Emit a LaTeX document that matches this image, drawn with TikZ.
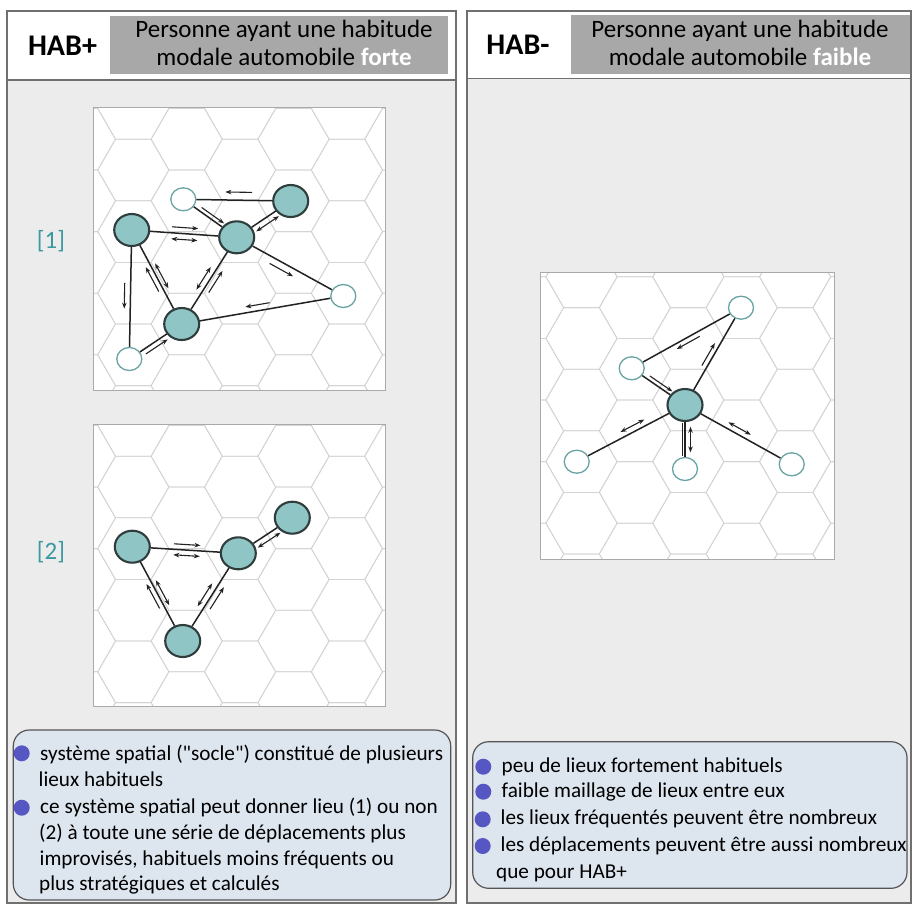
\documentclass[tikz,border=0pt]{standalone}
\usepackage{fontspec}
\setmainfont{Carlito}
\usetikzlibrary{calc,arrows.meta,shapes.geometric}
\definecolor{panelbg}{HTML}{ECECEC}
\definecolor{panelline}{HTML}{707070}
\definecolor{hexcol}{HTML}{D4D4D4}
\definecolor{headgray}{HTML}{A8A8A8}
\definecolor{nodefill}{HTML}{8FC5C4}
\definecolor{nodeline}{HTML}{2F3D3D}
\definecolor{opencol}{HTML}{6AA3A3}
\definecolor{boxfill}{HTML}{DDE5EF}
\definecolor{boxline}{HTML}{555555}
\definecolor{bulletcol}{HTML}{5757C4}
\definecolor{tealtext}{HTML}{3A9AA0}
\definecolor{edgecol}{HTML}{222222}
\newcommand{\hexgrid}[6]{%
  \begin{scope}
    \clip (#3,#4) rectangle (#5,#6);
    \foreach \i in {-5,...,6}{
      \foreach \k in {-5,...,6}{
        \pgfmathsetmacro{\cx}{#1+\i*53.4}
        \pgfmathsetmacro{\cy}{#2+\k*61.6-mod(abs(\i),2)*30.8}
        \draw[hexline] (\cx+35.6,\cy) -- (\cx+17.8,\cy+30.8) -- (\cx-17.8,\cy+30.8)
          -- (\cx-35.6,\cy) -- (\cx-17.8,\cy-30.8) -- (\cx+17.8,\cy-30.8) -- cycle;
      }}
  \end{scope}}
\newcommand{\sarr}[6][sm]{\draw[#1] ($(#2)!#4!(#3)!#6!90:(#3)$) -- ($(#2)!#5!(#3)!#6!90:(#3)$);}
\begin{document}
\begin{tikzpicture}[x=1pt,y=-1pt,
  hexline/.style={draw=hexcol,line width=0.8pt},
  panel/.style={draw=panelline,line width=1.3pt},
  gridbox/.style={fill=white,draw=hexcol!80!black,line width=0.8pt},
  fnode/.style={ellipse,draw=nodeline,fill=nodefill,line width=2.1pt,minimum width=35pt,minimum height=32pt,inner sep=0pt},
  onode/.style={ellipse,draw=opencol,fill=white,line width=1.3pt,minimum width=25pt,minimum height=23pt,inner sep=0pt},
  edge/.style={draw=edgecol,line width=1.5pt},
  sm/.style={draw=edgecol,line width=1.1pt,-{Stealth[length=6pt,width=4.5pt]}},
  dbl/.style={draw=edgecol,line width=1.1pt,{Stealth[length=6pt,width=4.5pt]}-{Stealth[length=6pt,width=4.5pt]}},
  plainl/.style={draw=edgecol,line width=1.5pt},
  bullet/.style={circle,fill=bulletcol,minimum size=16pt,inner sep=0pt},
  btext/.style={anchor=base west,inner sep=0pt,font=\fontsize{21.2}{26}\selectfont},
  ttext/.style={anchor=base,inner sep=0pt,font=\fontsize{25}{28}\selectfont},
  htext/.style={anchor=base,inner sep=0pt,font=\fontsize{30}{32}\selectfont\bfseries},
  lab/.style={inner sep=0pt,text=tealtext,font=\fontsize{25}{28}\selectfont}]
\useasboundingbox[fill=white] (0,0) rectangle (913,906);
% ---------- panels ----------
\fill[panelbg] (7,80) rectangle (456,903);
\fill[panelbg] (467,78.5) rectangle (911,903);
\draw[panel] (7,11) rectangle (456,903);
\draw[panel] (7,80) -- (456,80);
\draw[panel] (467,11) rectangle (911,903);
\draw[panel] (467,78.5) -- (911,78.5);
\fill[headgray] (110,16) rectangle (448,74);
\fill[headgray] (571,15) rectangle (910,74);
\node[htext] (h1) at (62.5,55) {HAB+};
\node[htext] (h2) at (518,54) {HAB-};
\node[ttext] (t1a) at (284,37.5) {Personne ayant une habitude};
\node[ttext] (t1b) at (284,65.5) {modale automobile \textcolor{white}{\bfseries forte}};
\node[ttext] (t2a) at (740,37.5) {Personne ayant une habitude};
\node[ttext] (t2b) at (740,65.5) {modale automobile \textcolor{white}{\bfseries faible}};
% ---------- grids ----------
\fill[white] (93,107) rectangle (385,390);
\hexgrid{133.3}{170}{93}{107}{385}{390}
\draw[gridbox,fill=none] (93,107) rectangle (385,390);
\fill[white] (93,424) rectangle (385,706);
\hexgrid{133.3}{487}{93}{424}{385}{706}
\draw[gridbox,fill=none] (93,424) rectangle (385,706);
\fill[white] (540,272) rectangle (834,559);
\hexgrid{688.3}{400}{540}{272}{834}{559}
\draw[gridbox,fill=none] (540,272) rectangle (834,559);
\node[lab] (l1) at (51,241) {[1]};
\node[lab] (l2) at (51,552) {[2]};
% ---------- panel 1 ----------
\node[fnode] (F1) at (131.7,230) {};
\node[fnode] (F2) at (236.7,237.3) {};
\node[fnode] (F3) at (290.7,201) {};
\node[fnode] (F4) at (181.7,324) {};
\node[onode] (O1) at (183.3,199.3) {};
\node[onode] (O2) at (343.3,296) {};
\node[onode] (O3) at (129.3,359) {};
\draw[edge] (F1) -- (F2);
\sarr{F1}{F2}{0.38}{0.63}{6pt}
\sarr[dbl]{F1}{F2}{0.38}{0.63}{-6pt}
\draw[edge] (F2) -- (F3);
\sarr[dbl]{F2}{F3}{0.3}{0.72}{-6pt}
\draw[edge] (O1) -- (F3);
\sarr{O1}{F3}{0.64}{0.39}{8pt}
\draw[edge] (O1) -- (F2);
\sarr{O1}{F2}{0.3}{0.72}{4pt}
\draw[edge] (F2) -- (O2);
\sarr{F2}{O2}{0.34}{0.56}{-7pt}
\draw[edge] (O2) -- (F4);
\sarr{O2}{F4}{0.45}{0.6}{-6pt}
\draw[edge] (F2) -- (F4);
\sarr[dbl]{F2}{F4}{0.38}{0.64}{-6pt}
\sarr{F2}{F4}{0.6}{0.35}{6pt}
\draw[edge] (F1) -- (F4);
\sarr{F1}{F4}{0.63}{0.37}{-5pt}
\sarr[dbl]{F1}{F4}{0.38}{0.645}{5pt}
\draw[edge] (F1) -- (O3);
\sarr{F1}{O3}{0.41}{0.61}{-6pt}
\draw[edge] (O3) -- (F4);
\sarr{O3}{F4}{0.265}{0.68}{-5pt}
% ---------- panel 2 ----------
\node[fnode] (G1) at (132.3,546.7) {};
\node[fnode] (G2) at (238.3,553.3) {};
\node[fnode] (G3) at (292.3,517.7) {};
\node[fnode] (G4) at (182.7,641) {};
\draw[edge] (G1) -- (G2);
\sarr{G1}{G2}{0.39}{0.64}{5.5pt}
\sarr[dbl]{G1}{G2}{0.39}{0.64}{-5.5pt}
\draw[edge] (G2) -- (G3);
\sarr[dbl]{G2}{G3}{0.3}{0.72}{-6pt}
\draw[edge] (G1) -- (G4);
\sarr{G1}{G4}{0.63}{0.37}{-5pt}
\sarr[dbl]{G1}{G4}{0.38}{0.645}{5pt}
\draw[edge] (G2) -- (G4);
\sarr[dbl]{G2}{G4}{0.38}{0.64}{-6pt}
\sarr{G2}{G4}{0.6}{0.35}{6pt}
% ---------- panel 3 ----------
\node[fnode] (H) at (685,405) {};
\node[onode] (P1) at (741,307.7) {};
\node[onode] (P2) at (631.7,368.3) {};
\node[onode] (P3) at (576.7,461.7) {};
\node[onode] (P4) at (685,469) {};
\node[onode] (P5) at (791.7,464.3) {};
\draw[edge] (P1) -- (P2);
\sarr{P1}{P2}{0.40}{0.61}{5pt}
\draw[edge] (P1) -- (H);
\sarr{P1}{H}{0.62}{0.39}{-5pt}
\draw[edge] (P2) -- (H);
\sarr{P2}{H}{0.3}{0.72}{4pt}
\draw[edge] (H) -- (P3);
\sarr[dbl]{H}{P3}{0.35}{0.57}{-6pt}
\draw[edge] (H) -- (P4);
\sarr[plainl]{H}{P4}{0.28}{0.8}{-2.5pt}
\sarr[dbl]{H}{P4}{0.34}{0.74}{5.5pt}
\draw[edge] (H) -- (P5);
\sarr[dbl]{H}{P5}{0.38}{0.59}{6pt}
% ---------- text boxes ----------
\draw[fill=boxfill,draw=boxline,line width=1.2pt,rounded corners=16pt] (13.3,730) rectangle (450.7,900);
\node[bullet] (b1) at (21.7,753.3) {};
\node[bullet] (b2) at (21.7,807.7) {};
\node[btext] (x1) at (40,760) {système spatial (\textquotedbl socle\textquotedbl) constitué de plusieurs};
\node[btext] (x2) at (38.5,786) {lieux habituels};
\node[btext] (x3) at (40,813.2) {ce système spatial peut donner lieu (1) ou non};
\node[btext] (x4) at (39,839.2) {(2) à toute une série de déplacements plus};
\node[btext] (x5) at (39.5,865.2) {improvisés, habituels moins fréquents ou};
\node[btext] (x6) at (39,890.5) {plus stratégiques et calculés};
\draw[fill=boxfill,draw=boxline,line width=1.2pt,rounded corners=16pt] (472.7,741.7) rectangle (907,888.3);
\node[bullet] (c1) at (483.3,766.7) {};
\node[bullet] (c2) at (483.3,791.7) {};
\node[bullet] (c3) at (482.7,819.3) {};
\node[bullet] (c4) at (482.7,846) {};
\node[btext] (y1) at (501.5,772.3) {peu de lieux fortement habituels};
\node[btext] (y2) at (501.5,797) {faible maillage de lieux entre eux};
\node[btext] (y3) at (500.5,824.7) {les lieux fréquentés peuvent être nombreux};
\node[btext] (y4) at (500.5,851.3) {les déplacements peuvent être aussi nombreux};
\node[btext] (y5) at (496,878) {que pour HAB+};
\end{tikzpicture}
\end{document}
